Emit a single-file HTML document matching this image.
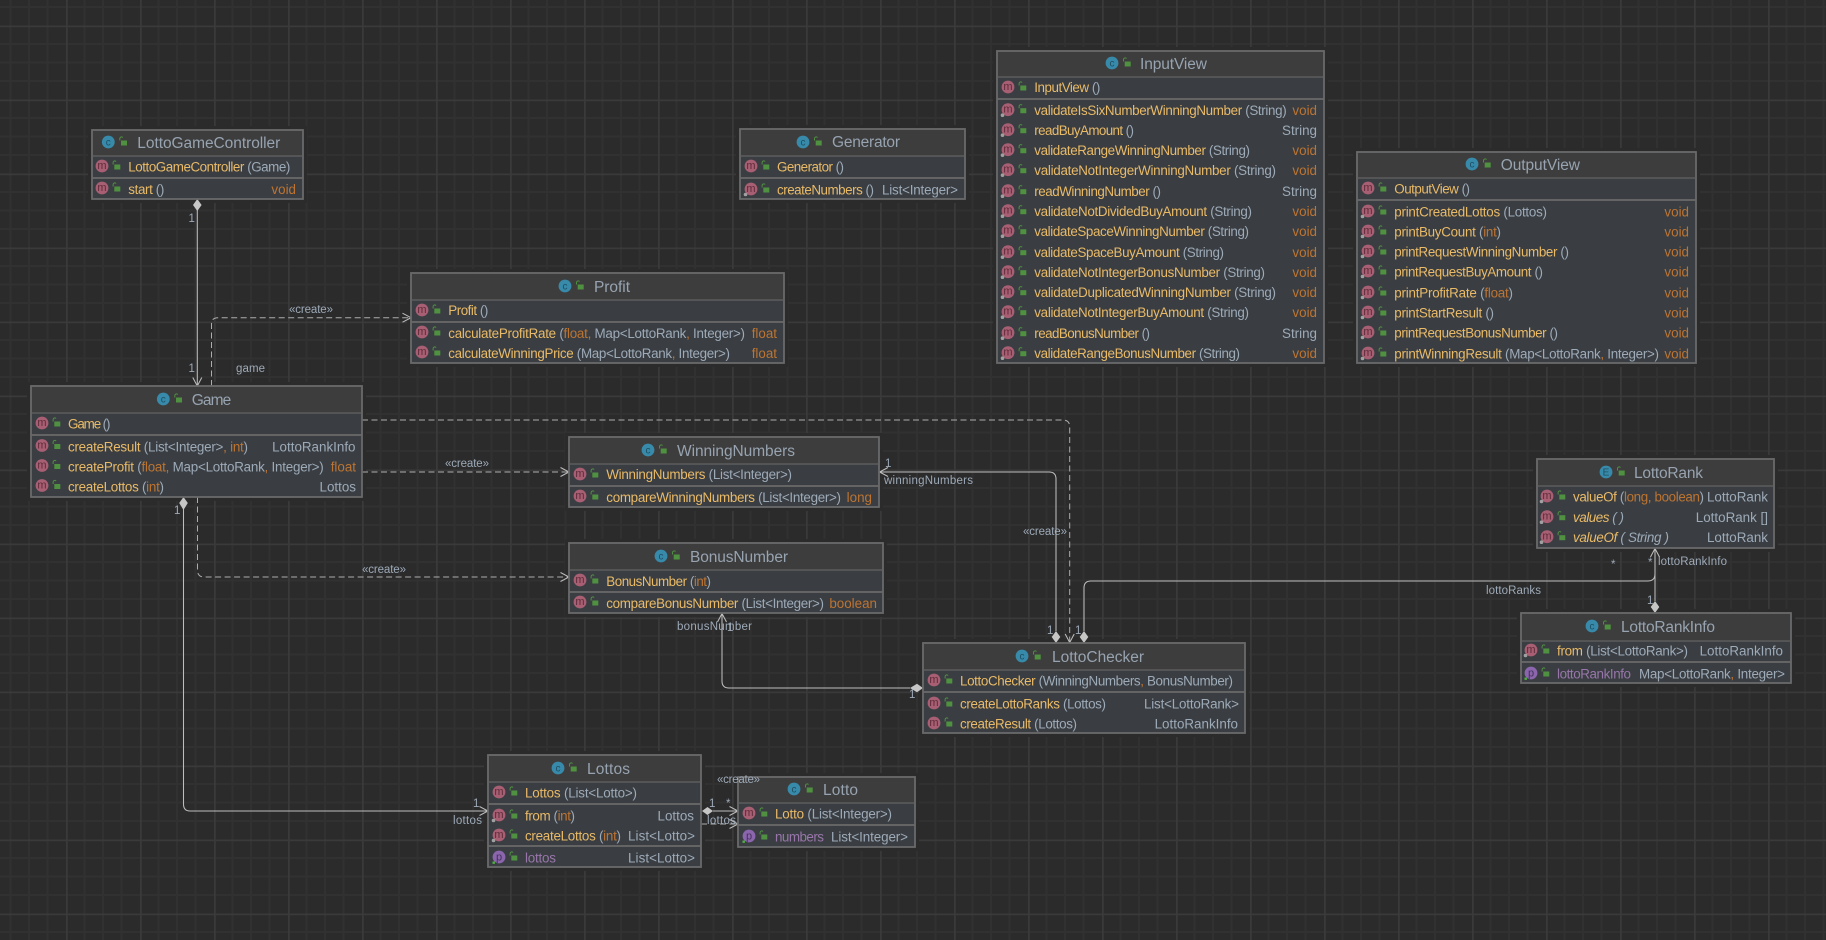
<!DOCTYPE html>
<html lang="en"><head><meta charset="utf-8"><title>Lotto UML diagram</title>
<style>
html,body{margin:0;padding:0;width:1826px;height:940px;overflow:hidden;background:#2b2b2b}
svg{display:block}
text{font-family:"Liberation Sans",sans-serif;font-size:13.4px;fill:#9daab8}
.t{font-size:15.5px;fill:#97a3b0}
.n{fill:#e9ba68}.o{fill:#bd7432}.p{fill:#9876aa}
.e{text-anchor:end}
.i{font-style:italic}
.im{font-size:11px;fill:#5e2c3a;text-anchor:middle}
.ip{font-size:11px;fill:#43315a;text-anchor:middle}
.ic{font-size:10px;fill:#1f4f63;text-anchor:middle}
.l{font-size:11.5px;fill:#9daab8}
.body{fill:#3a3e42;stroke:#6a6a6a;stroke-width:1.8}
.halo{fill:#2b2b2b;stroke:#2b2b2b;stroke-width:8}
.head{fill:#3d3d3d}
.s1{stroke:#636363;stroke-width:1.2}
.s2{stroke:#6a6a6a;stroke-width:1.8}
.c{fill:none;stroke:#bdbdbd;stroke-width:1.05}
.d{fill:none;stroke:#adadad;stroke-width:1;stroke-dasharray:6 3.5}
.a{fill:none;stroke:#bdbdbd;stroke-width:1.05}
.dm{fill:#c6c6c6}
</style></head><body>
<svg width="1826" height="940" viewBox="0 0 1826 940" xmlns="http://www.w3.org/2000/svg">
<defs>
<pattern id="grid" width="74" height="74" patternUnits="userSpaceOnUse" patternTransform="translate(66 25.5)">
<path d="M18.5 0V74M37 0V74M55.5 0V74M0 18.5H74M0 37H74M0 55.5H74" stroke="#313131" stroke-width="2" fill="none"/>
<path d="M0 0V74M0 0H74" stroke="#3a3a3a" stroke-width="3.4" fill="none"/>
</pattern>
<g id="lk"><rect x="-2" y="-1.500" width="6" height="5" fill="#4f9140"/><path d="M-3.200 -1.500v-2a1.700 1.700 0 0 1 3-1" stroke="#4f9140" stroke-width="1" fill="none"/></g>
<g id="r"><circle r="6.4" fill="#a85f73"/><use href="#lk" x="14.3"/></g>
<g id="rs"><circle r="6.4" fill="#a85f73"/><circle cx="-5.5" cy="5.5" r="1.800" fill="#a0a0a0"/><use href="#lk" x="14.3"/></g>
<g id="f"><circle r="6.4" fill="#8b66ad"/><rect x="-6.5" y="4.5" width="2.4" height="2.4" fill="#4fb040"/><use href="#lk" x="14.3"/></g>
<g id="h"><circle r="6.4" fill="#388aab"/><use href="#lk" x="14.7"/></g>
</defs>
<rect width="1826" height="940" fill="#2b2b2b"/>
<rect width="1826" height="940" fill="url(#grid)"/>

<!-- halos -->
<rect class="halo" x="92" y="130" width="211" height="69"/>
<rect class="halo" x="31" y="386" width="331" height="111"/>
<rect class="halo" x="411" y="273" width="373" height="90"/>
<rect class="halo" x="569" y="437" width="310" height="70"/>
<rect class="halo" x="569" y="543" width="314" height="70"/>
<rect class="halo" x="997" y="51" width="327" height="312"/>
<rect class="halo" x="1357" y="152" width="339" height="211"/>
<rect class="halo" x="1537" y="459" width="237" height="89"/>
<rect class="halo" x="1521" y="613" width="270" height="70"/>
<rect class="halo" x="923" y="643" width="322" height="90"/>
<rect class="halo" x="488" y="755" width="213" height="112"/>
<rect class="halo" x="738" y="777" width="177" height="70"/>
<rect class="halo" x="740" y="129" width="225" height="70"/>

<!-- connectors -->
<path class="c" d="M197.3 205V386"/>
<polygon class="dm" points="197.3,199 201.6,205 197.3,211 193,205"/>
<path class="a" d="M192.8 377.5L197.3 386L201.8 377.5"/>
<path class="d" d="M211.5 386V324Q211.5 317.7 218 317.7H410"/>
<path class="a" d="M402.5 313.2L411 317.7L402.5 322.2"/>
<path class="d" d="M362 420H1063Q1069.7 420 1069.7 427V642"/>
<path class="a" d="M1065.2 634L1069.7 642.5L1074.2 634"/>
<path class="d" d="M362 472H568"/>
<path class="a" d="M560.5 467.5L569 472L560.5 476.5"/>
<path class="d" d="M197.5 497V570Q197.5 577 204 577H568"/>
<path class="a" d="M560.5 572.5L569 577L560.5 581.5"/>
<path class="c" d="M183.5 503V804Q183.5 811 190 811H487"/>
<polygon class="dm" points="183.5,497 187.8,503 183.5,510 179.2,503"/>
<path class="a" d="M479.5 806.5L488 811L479.5 815.5"/>
<path class="c" d="M880 472H1049Q1056 472 1056 479V631"/>
<polygon class="dm" points="1056,631 1060.3,637 1056,643 1051.7,637"/>
<path class="a" d="M888 467.5L879.5 472L888 476.5"/>
<path class="c" d="M722 614V681Q722 688 729 688H910"/>
<polygon class="dm" points="923,688 917,692.3 910,688 917,683.7"/>
<path class="a" d="M717.5 622L722 613.5L726.500 622"/>
<path class="c" d="M1084 631V588Q1084 581 1091 581H1648Q1655 581 1655 574V549"/>
<polygon class="dm" points="1084,631 1088.3,637 1084,643 1079.700,637"/>
<path class="c" d="M1655 549V601"/>
<polygon class="dm" points="1655,601 1659.300,607 1655,613 1650.700,607"/>
<path class="a" d="M1650.500 557L1655 548.500L1659.500 557"/>
<path class="c" d="M713 811H738"/>
<polygon class="dm" points="702,811 707.500,807 713,811 707.500,815"/>
<path class="a" d="M729.500 806.500L738 811L729.500 815.500"/>
<path class="d" d="M701 824H737"/>
<path class="a" d="M729.500 819.500L738 824L729.500 828.500"/>

<!-- LottoGameController -->
<rect class="body" x="92" y="130" width="211" height="69"/><rect class="head" x="93" y="131" width="209" height="25"/>
<path class="s1" d="M92 156H303"/><path class="s2" d="M92 178H303"/>
<use href="#h" x="108.300" y="142"/><text class="ic" x="108.300" y="145.500">c</text>
<text class="t" x="137.300" y="148" textLength="143">LottoGameController</text>
<use href="#r" x="102" y="166"/><text class="im" x="102" y="169">m</text>
<text x="128.300" y="171.300" textLength="162"><tspan class="n">LottoGameController</tspan> (Game)</text>
<use href="#r" x="102" y="188"/><text class="im" x="102" y="191">m</text>
<text x="128.300" y="194" textLength="36"><tspan class="n">start</tspan> ()</text>
<text class="e o" x="296" y="194">void</text>

<!-- Game -->
<rect class="body" x="31" y="386" width="331" height="111"/><rect class="head" x="32" y="387" width="329" height="26"/>
<path class="s1" d="M31 413H362"/><path class="s2" d="M31 435H362"/>
<use href="#h" x="163.300" y="399"/><text class="ic" x="163.300" y="402.500">c</text>
<text class="t" x="191.700" y="405" textLength="39.500">Game</text>
<use href="#r" x="42" y="423"/><text class="im" x="42" y="426">m</text>
<text x="68" y="428.500" textLength="42.500"><tspan class="n">Game</tspan> ()</text>
<use href="#r" x="42" y="445.500"/><text class="im" x="42" y="448.500">m</text>
<text x="68" y="451.500" textLength="180"><tspan class="n">createResult</tspan> (List&lt;Integer&gt;<tspan class="o">, int</tspan>)</text>
<text class="e" x="355.500" y="451.500">LottoRankInfo</text>
<use href="#r" x="42" y="465.500"/><text class="im" x="42" y="468.500">m</text>
<text x="68" y="471.500" textLength="255.700"><tspan class="n">createProfit</tspan> (<tspan class="o">float,</tspan> Map&lt;LottoRank<tspan class="o">,</tspan> Integer&gt;)</text>
<text class="e o" x="356" y="471.500">float</text>
<use href="#r" x="42" y="485.500"/><text class="im" x="42" y="488.500">m</text>
<text x="68" y="491.500" textLength="96"><tspan class="n">createLottos</tspan> (<tspan class="o">int</tspan>)</text>
<text class="e" x="356" y="491.500">Lottos</text>

<!-- Profit -->
<rect class="body" x="411" y="273" width="373" height="90"/><rect class="head" x="412" y="274" width="371" height="26"/>
<path class="s1" d="M411 300H784"/><path class="s2" d="M411 322H784"/>
<use href="#h" x="565" y="286"/><text class="ic" x="565" y="289.500">c</text>
<text class="t" x="594" y="292" textLength="36">Profit</text>
<use href="#r" x="422" y="310"/><text class="im" x="422" y="313">m</text>
<text x="448.300" y="315" textLength="40"><tspan class="n">Profit</tspan> ()</text>
<use href="#r" x="422" y="332"/><text class="im" x="422" y="335">m</text>
<text x="448.300" y="338" textLength="296.700"><tspan class="n">calculateProfitRate</tspan> (<tspan class="o">float,</tspan> Map&lt;LottoRank<tspan class="o">,</tspan> Integer&gt;)</text>
<text class="e o" x="777" y="338">float</text>
<use href="#r" x="422" y="352"/><text class="im" x="422" y="355">m</text>
<text x="448.300" y="358" textLength="281.700"><tspan class="n">calculateWinningPrice</tspan> (Map&lt;LottoRank<tspan class="o">,</tspan> Integer&gt;)</text>
<text class="e o" x="777" y="358">float</text>

<!-- WinningNumbers -->
<rect class="body" x="569" y="437" width="310" height="70"/><rect class="head" x="570" y="438" width="308" height="26"/>
<path class="s1" d="M569 464H879"/><path class="s2" d="M569 486H879"/>
<use href="#h" x="648" y="450"/><text class="ic" x="648" y="453.500">c</text>
<text class="t" x="677" y="456" textLength="118">WinningNumbers</text>
<use href="#r" x="580" y="474"/><text class="im" x="580" y="477">m</text>
<text x="606.300" y="479" textLength="185.700"><tspan class="n">WinningNumbers</tspan> (List&lt;Integer&gt;)</text>
<use href="#r" x="580" y="496"/><text class="im" x="580" y="499">m</text>
<text x="606.300" y="502" textLength="234.700"><tspan class="n">compareWinningNumbers</tspan> (List&lt;Integer&gt;)</text>
<text class="e o" x="872" y="502">long</text>

<!-- BonusNumber -->
<rect class="body" x="569" y="543" width="314" height="70"/><rect class="head" x="570" y="544" width="312" height="26"/>
<path class="s1" d="M569 570H883"/><path class="s2" d="M569 592H883"/>
<use href="#h" x="661" y="556"/><text class="ic" x="661" y="559.500">c</text>
<text class="t" x="690" y="562" textLength="98">BonusNumber</text>
<use href="#r" x="580" y="580"/><text class="im" x="580" y="583">m</text>
<text x="606.300" y="586" textLength="104.700"><tspan class="n">BonusNumber</tspan> (<tspan class="o">int</tspan>)</text>
<use href="#r" x="580" y="602"/><text class="im" x="580" y="605">m</text>
<text x="606.300" y="608" textLength="217.700"><tspan class="n">compareBonusNumber</tspan> (List&lt;Integer&gt;)</text>
<text class="e o" x="877" y="608">boolean</text>

<!-- InputView -->
<rect class="body" x="997" y="51" width="327" height="312"/><rect class="head" x="998" y="52" width="325" height="25"/>
<path class="s1" d="M997 77H1324"/><path class="s2" d="M997 99H1324"/>
<use href="#h" x="1112" y="63"/><text class="ic" x="1112" y="66.500">c</text>
<text class="t" x="1140" y="69" textLength="67">InputView</text>
<use href="#r" x="1008" y="87"/><text class="im" x="1008" y="90">m</text>
<text x="1034.300" y="92" textLength="66"><tspan class="n">InputView</tspan> ()</text>
<use href="#rs" x="1008" y="109.700"/><text class="im" x="1008" y="112.700">m</text>
<text x="1034.300" y="115.200" textLength="252.400"><tspan class="n">validateIsSixNumberWinningNumber</tspan> (String)</text><text class="e o" x="1317" y="115.200">void</text>
<use href="#rs" x="1008" y="129.700"/><text class="im" x="1008" y="132.700">m</text>
<text x="1034.300" y="135.200" textLength="99.700"><tspan class="n">readBuyAmount</tspan> ()</text><text class="e" x="1317" y="135.200">String</text>
<use href="#rs" x="1008" y="149.700"/><text class="im" x="1008" y="152.700">m</text>
<text x="1034.300" y="155.200" textLength="215.700"><tspan class="n">validateRangeWinningNumber</tspan> (String)</text><text class="e o" x="1317" y="155.200">void</text>
<use href="#rs" x="1008" y="169.700"/><text class="im" x="1008" y="172.700">m</text>
<text x="1034.300" y="175.200" textLength="241.700"><tspan class="n">validateNotIntegerWinningNumber</tspan> (String)</text><text class="e o" x="1317" y="175.200">void</text>
<use href="#rs" x="1008" y="190.700"/><text class="im" x="1008" y="193.700">m</text>
<text x="1034.300" y="196.200" textLength="126.700"><tspan class="n">readWinningNumber</tspan> ()</text><text class="e" x="1317" y="196.200">String</text>
<use href="#rs" x="1008" y="210.700"/><text class="im" x="1008" y="213.700">m</text>
<text x="1034.300" y="216.200" textLength="217.700"><tspan class="n">validateNotDividedBuyAmount</tspan> (String)</text><text class="e o" x="1317" y="216.200">void</text>
<use href="#rs" x="1008" y="230.700"/><text class="im" x="1008" y="233.700">m</text>
<text x="1034.300" y="236.200" textLength="214.700"><tspan class="n">validateSpaceWinningNumber</tspan> (String)</text><text class="e o" x="1317" y="236.200">void</text>
<use href="#rs" x="1008" y="251.700"/><text class="im" x="1008" y="254.700">m</text>
<text x="1034.300" y="257.200" textLength="189.700"><tspan class="n">validateSpaceBuyAmount</tspan> (String)</text><text class="e o" x="1317" y="257.200">void</text>
<use href="#rs" x="1008" y="271.700"/><text class="im" x="1008" y="274.700">m</text>
<text x="1034.300" y="277.200" textLength="230.700"><tspan class="n">validateNotIntegerBonusNumber</tspan> (String)</text><text class="e o" x="1317" y="277.200">void</text>
<use href="#rs" x="1008" y="291.700"/><text class="im" x="1008" y="294.700">m</text>
<text x="1034.300" y="297.200" textLength="241.700"><tspan class="n">validateDuplicatedWinningNumber</tspan> (String)</text><text class="e o" x="1317" y="297.200">void</text>
<use href="#rs" x="1008" y="311.700"/><text class="im" x="1008" y="314.700">m</text>
<text x="1034.300" y="317.200" textLength="214.700"><tspan class="n">validateNotIntegerBuyAmount</tspan> (String)</text><text class="e o" x="1317" y="317.200">void</text>
<use href="#rs" x="1008" y="332.700"/><text class="im" x="1008" y="335.700">m</text>
<text x="1034.300" y="338.200" textLength="115.700"><tspan class="n">readBonusNumber</tspan> ()</text><text class="e" x="1317" y="338.200">String</text>
<use href="#rs" x="1008" y="352.700"/><text class="im" x="1008" y="355.700">m</text>
<text x="1034.300" y="358.200" textLength="205.700"><tspan class="n">validateRangeBonusNumber</tspan> (String)</text><text class="e o" x="1317" y="358.200">void</text>

<!-- OutputView -->
<rect class="body" x="1357" y="152" width="339" height="211"/><rect class="head" x="1358" y="153" width="337" height="25"/>
<path class="s1" d="M1357 178H1696"/><path class="s2" d="M1357 200H1696"/>
<use href="#h" x="1472" y="164"/><text class="ic" x="1472" y="167.500">c</text>
<text class="t" x="1500.700" y="170" textLength="79.300">OutputView</text>
<use href="#r" x="1368" y="188"/><text class="im" x="1368" y="191">m</text>
<text x="1394.300" y="193.500" textLength="75.700"><tspan class="n">OutputView</tspan> ()</text>
<use href="#rs" x="1368" y="211"/><text class="im" x="1368" y="214">m</text>
<text x="1394.300" y="216.500" textLength="152.700"><tspan class="n">printCreatedLottos</tspan> (Lottos)</text><text class="e o" x="1689" y="216.500">void</text>
<use href="#rs" x="1368" y="231"/><text class="im" x="1368" y="234">m</text>
<text x="1394.300" y="236.500" textLength="106.700"><tspan class="n">printBuyCount</tspan> (<tspan class="o">int</tspan>)</text><text class="e o" x="1689" y="236.500">void</text>
<use href="#rs" x="1368" y="251"/><text class="im" x="1368" y="254">m</text>
<text x="1394.300" y="256.500" textLength="174.700"><tspan class="n">printRequestWinningNumber</tspan> ()</text><text class="e o" x="1689" y="256.500">void</text>
<use href="#rs" x="1368" y="271"/><text class="im" x="1368" y="274">m</text>
<text x="1394.300" y="276.500" textLength="148.700"><tspan class="n">printRequestBuyAmount</tspan> ()</text><text class="e o" x="1689" y="276.500">void</text>
<use href="#rs" x="1368" y="292"/><text class="im" x="1368" y="295">m</text>
<text x="1394.300" y="297.500" textLength="118.700"><tspan class="n">printProfitRate</tspan> (<tspan class="o">float</tspan>)</text><text class="e o" x="1689" y="297.500">void</text>
<use href="#rs" x="1368" y="312"/><text class="im" x="1368" y="315">m</text>
<text x="1394.300" y="317.500" textLength="99.700"><tspan class="n">printStartResult</tspan> ()</text><text class="e o" x="1689" y="317.500">void</text>
<use href="#rs" x="1368" y="332"/><text class="im" x="1368" y="335">m</text>
<text x="1394.300" y="337.500" textLength="163.700"><tspan class="n">printRequestBonusNumber</tspan> ()</text><text class="e o" x="1689" y="337.500">void</text>
<use href="#rs" x="1368" y="353"/><text class="im" x="1368" y="356">m</text>
<text x="1394.300" y="358.500" textLength="264.700"><tspan class="n">printWinningResult</tspan> (Map&lt;LottoRank<tspan class="o">,</tspan> Integer&gt;)</text><text class="e o" x="1689" y="358.500">void</text>

<!-- LottoRank -->
<rect class="body" x="1537" y="459" width="237" height="89"/><rect class="head" x="1538" y="460" width="235" height="26"/>
<path class="s1" d="M1537 486H1774"/>
<use href="#h" x="1606" y="472"/><text class="ic" x="1606" y="475.500">E</text>
<text class="t" x="1634" y="478" textLength="69">LottoRank</text>
<use href="#rs" x="1547" y="496"/><text class="im" x="1547" y="499">m</text>
<text x="1573" y="501.500" textLength="131"><tspan class="n">valueOf</tspan> (<tspan class="o">long, boolean</tspan>)</text><text class="e" x="1768" y="501.500">LottoRank</text>
<use href="#rs" x="1547" y="516.700"/><text class="im" x="1547" y="519.700">m</text>
<text class="i" x="1573" y="522.200" textLength="51"><tspan class="n">values</tspan> ( )</text><text class="e" x="1768" y="522.200">LottoRank []</text>
<use href="#rs" x="1547" y="536.700"/><text class="im" x="1547" y="539.700">m</text>
<text class="i" x="1573" y="542.200" textLength="96"><tspan class="n">valueOf</tspan> ( String )</text><text class="e" x="1768" y="542.200">LottoRank</text>

<!-- LottoRankInfo -->
<rect class="body" x="1521" y="613" width="270" height="70"/><rect class="head" x="1522" y="614" width="268" height="27"/>
<path class="s1" d="M1521 641H1791"/><path class="s2" d="M1521 662H1791"/>
<use href="#h" x="1592" y="626"/><text class="ic" x="1592" y="629.500">c</text>
<text class="t" x="1621" y="632" textLength="94">LottoRankInfo</text>
<use href="#rs" x="1531" y="650"/><text class="im" x="1531" y="653">m</text>
<text x="1557" y="655.500" textLength="131"><tspan class="n">from</tspan> (List&lt;LottoRank&gt;)</text><text class="e" x="1783" y="655.500">LottoRankInfo</text>
<use href="#f" x="1531" y="673"/><text class="ip" x="1531" y="676.500">p</text>
<text class="p" x="1557" y="678.500" textLength="74">lottoRankInfo</text>
<text x="1639" y="678.500" textLength="146">Map&lt;LottoRank<tspan class="o">,</tspan> Integer&gt;</text>

<!-- LottoChecker -->
<rect class="body" x="923" y="643" width="322" height="90"/><rect class="head" x="924" y="644" width="320" height="26"/>
<path class="s1" d="M923 670H1245"/><path class="s2" d="M923 692H1245"/>
<use href="#h" x="1022" y="656"/><text class="ic" x="1022" y="659.500">c</text>
<text class="t" x="1052" y="662" textLength="92">LottoChecker</text>
<use href="#r" x="934" y="680"/><text class="im" x="934" y="683">m</text>
<text x="960" y="685.500" textLength="273"><tspan class="n">LottoChecker</tspan> (WinningNumbers<tspan class="o">,</tspan> BonusNumber)</text>
<use href="#r" x="934" y="703"/><text class="im" x="934" y="706">m</text>
<text x="960" y="708.500" textLength="146"><tspan class="n">createLottoRanks</tspan> (Lottos)</text><text class="e" x="1239" y="708.500" textLength="95">List&lt;LottoRank&gt;</text>
<use href="#r" x="934" y="723"/><text class="im" x="934" y="726">m</text>
<text x="960" y="728.500" textLength="117"><tspan class="n">createResult</tspan> (Lottos)</text><text class="e" x="1238" y="728.500">LottoRankInfo</text>

<!-- Lottos -->
<rect class="body" x="488" y="755" width="213" height="112"/><rect class="head" x="489" y="756" width="211" height="26"/>
<path class="s1" d="M488 782H701"/><path class="s2" d="M488 804H701M488 846H701"/>
<use href="#h" x="558" y="768"/><text class="ic" x="558" y="771.500">c</text>
<text class="t" x="587" y="774" textLength="43">Lottos</text>
<use href="#r" x="499" y="792"/><text class="im" x="499" y="795">m</text>
<text x="525" y="797.500" textLength="112"><tspan class="n">Lottos</tspan> (List&lt;Lotto&gt;)</text>
<use href="#rs" x="499" y="815"/><text class="im" x="499" y="818">m</text>
<text x="525" y="820.500" textLength="50"><tspan class="n">from</tspan> (<tspan class="o">int</tspan>)</text><text class="e" x="694" y="820.500">Lottos</text>
<use href="#rs" x="499" y="835"/><text class="im" x="499" y="838">m</text>
<text x="525" y="840.500" textLength="96"><tspan class="n">createLottos</tspan> (<tspan class="o">int</tspan>)</text><text class="e" x="695" y="840.500" textLength="67">List&lt;Lotto&gt;</text>
<use href="#f" x="499" y="857"/><text class="ip" x="499" y="860.500">p</text>
<text class="p" x="525" y="862.500" textLength="31">lottos</text><text class="e" x="695" y="862.500" textLength="67">List&lt;Lotto&gt;</text>

<!-- Lotto -->
<rect class="body" x="738" y="777" width="177" height="70"/><rect class="head" x="739" y="778" width="175" height="25"/>
<path class="s1" d="M738 803H915"/><path class="s2" d="M738 825H915"/>
<use href="#h" x="794" y="789"/><text class="ic" x="794" y="792.500">c</text>
<text class="t" x="823" y="795" textLength="35">Lotto</text>
<use href="#r" x="749" y="813"/><text class="im" x="749" y="816">m</text>
<text x="775" y="818.500" textLength="117"><tspan class="n">Lotto</tspan> (List&lt;Integer&gt;)</text>
<use href="#f" x="749" y="836"/><text class="ip" x="749" y="839.500">p</text>
<text class="p" x="775" y="841.500" textLength="49">numbers</text><text x="831" y="841.500" textLength="77">List&lt;Integer&gt;</text>

<!-- Generator -->
<rect class="body" x="740" y="129" width="225" height="70"/><rect class="head" x="741" y="130" width="223" height="26"/>
<path class="s1" d="M740 156H965"/><path class="s2" d="M740 178H965"/>
<use href="#h" x="803" y="142"/><text class="ic" x="803" y="145.500">c</text>
<text class="t" x="832" y="147" textLength="68">Generator</text>
<use href="#r" x="751" y="166"/><text class="im" x="751" y="169">m</text>
<text x="777" y="171.500" textLength="67"><tspan class="n">Generator</tspan> ()</text>
<use href="#rs" x="751" y="189"/><text class="im" x="751" y="192">m</text>
<text x="777" y="194.500" textLength="97"><tspan class="n">createNumbers</tspan> ()</text><text x="882" y="194.500" textLength="76">List&lt;Integer&gt;</text>

<!-- connector labels, drawn above the nodes -->
<text class="l" x="188.500" y="222">1</text>
<text class="l" x="188.500" y="372">1</text>
<text class="l" x="289" y="313" textLength="44">«create»</text>
<text class="l" x="236" y="372" textLength="29">game</text>
<text class="l" x="445" y="467" textLength="44">«create»</text>
<text class="l" x="362" y="573" textLength="44">«create»</text>
<text class="l" x="1023" y="535" textLength="44">«create»</text>
<text class="l" x="174" y="514">1</text>
<text class="l" x="473" y="807">1</text>
<text class="l" x="453" y="824" textLength="29">lottos</text>
<text class="l" x="885" y="467">1</text>
<text class="l" x="884" y="484" textLength="89">winningNumbers</text>
<text class="l" x="677" y="630" textLength="75">bonusNumber</text>
<text class="l" x="727" y="631">1</text>
<text class="l" x="909" y="698">1</text>
<text class="l" x="1047" y="634">1</text>
<text class="l" x="1075" y="634">1</text>
<text class="l" x="1486" y="594" textLength="55">lottoRanks</text>
<text class="l" x="1611" y="568">*</text>
<text class="l" x="1648" y="566">*</text>
<text class="l" x="1658" y="565" textLength="69">lottoRankInfo</text>
<text class="l" x="1647" y="604">1</text>
<text class="l" x="709" y="807">1</text>
<text class="l" x="726" y="807">*</text>
<text class="l" x="707" y="824" textLength="29">lottos</text>
<text class="l" x="717" y="783" textLength="43">«create»</text>
</svg>
</body></html>
